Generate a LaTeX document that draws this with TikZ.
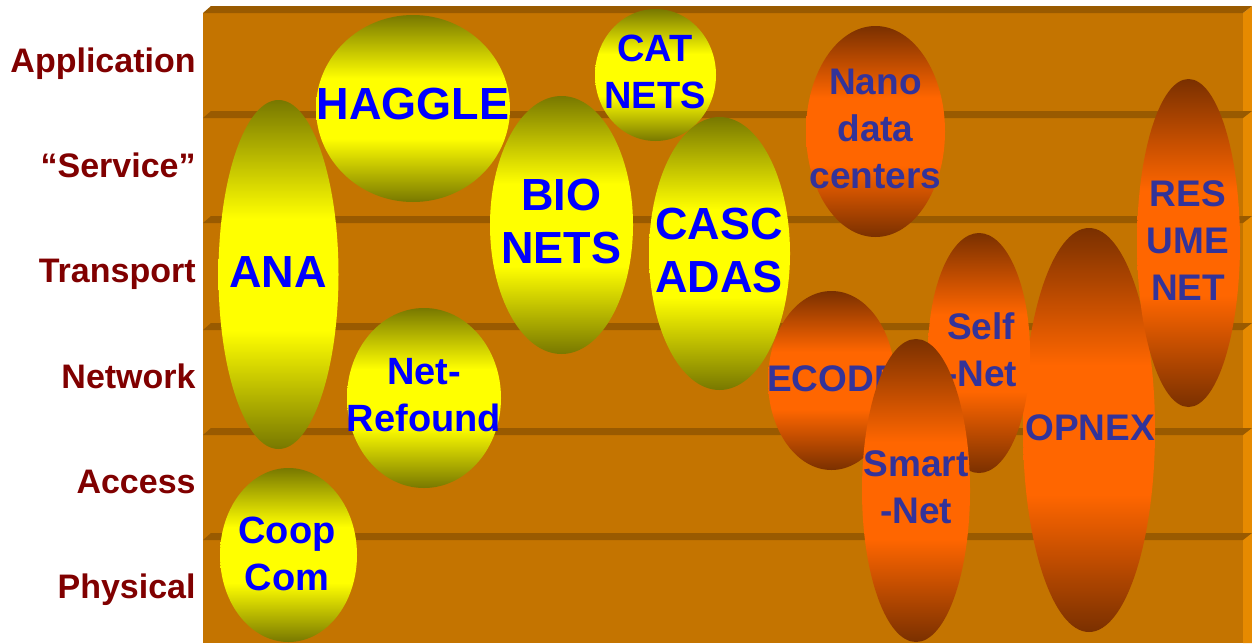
\documentclass[tikz,border=0pt]{standalone}
\usepackage{fontspec}
\setmainfont{Liberation Sans}
\usetikzlibrary{shapes.geometric}

\definecolor{slabfront}{RGB}{196,116,0}
\definecolor{slabtop}{RGB}{153,90,0}
\definecolor{slabside}{RGB}{230,138,0}
\definecolor{layerred}{RGB}{128,0,0}
\definecolor{olivedark}{RGB}{120,120,0}
\definecolor{yellowlight}{RGB}{255,255,0}
\definecolor{browndark}{RGB}{122,48,0}
\definecolor{orangelight}{RGB}{255,102,0}
\definecolor{projblue}{RGB}{0,0,255}
\definecolor{projslate}{RGB}{51,51,153}

\pgfdeclareverticalshading{yellowshade}{100bp}{color(0bp)=(olivedark); color(25bp)=(olivedark); color(42bp)=(yellowlight); color(58bp)=(yellowlight); color(75bp)=(olivedark); color(100bp)=(olivedark)}
\pgfdeclareverticalshading{orangeshade}{100bp}{color(0bp)=(browndark); color(25bp)=(browndark); color(42bp)=(orangelight); color(58bp)=(orangelight); color(75bp)=(browndark); color(100bp)=(browndark)}

\tikzset{
  layername/.style={anchor=base east, inner sep=0pt, text=layerred, font=\bfseries\fontsize{17}{20}\selectfont},
  yellowball/.style={shading=yellowshade},
  orangeball/.style={shading=orangeshade},
  bigtext/.style={inner sep=0pt, align=center, text=projblue, font=\bfseries\fontsize{22.5}{26.5}\selectfont},
  smalltext/.style={inner sep=0pt, align=center, text=projblue, font=\bfseries\fontsize{19}{23.5}\selectfont},
  orangetext/.style={inner sep=0pt, align=center, text=projslate, font=\bfseries\fontsize{18.5}{23.5}\selectfont},
}

\begin{document}
\begin{tikzpicture}[x=0.5pt,y=-0.5pt]
\useasboundingbox (0,0) rectangle (1252,643);

% 棚の前面と側面
\fill[slabfront] (203,13) rectangle (1243,643);
\fill[slabside] (1243,13)--(1252,6)--(1252,643)--(1243,643)--cycle;

% 棚の上面
\fill[slabtop] (203,13)--(211,6)--(1252,6)--(1243,13)--cycle;
\fill[slabtop] (203,118)--(211,111)--(1252,111)--(1243,118)--cycle;
\fill[slabtop] (203,223)--(211,216)--(1252,216)--(1243,223)--cycle;
\fill[slabtop] (203,330)--(211,323)--(1252,323)--(1243,330)--cycle;
\fill[slabtop] (203,435)--(211,428)--(1252,428)--(1243,435)--cycle;
\fill[slabtop] (203,540)--(211,533)--(1252,533)--(1243,540)--cycle;

% 層の名前
\node[layername] (application) at (196,72) {Application};
\node[layername] (service) at (196,177) {“Service”};
\node[layername] (transport) at (196,282) {Transport};
\node[layername] (network) at (196,388) {Network};
\node[layername] (access) at (196,493) {Access};
\node[layername] (physical) at (196,598) {Physical};

% ANA
\shade[yellowball] (278.5,274.5) ellipse [x radius=60, y radius=174.5];
\node[bigtext] (ana) at (278,272) {ANA};

% HAGGLE
\shade[yellowball] (413,108.5) ellipse [x radius=97, y radius=93.5];
\node[bigtext] (haggle) at (413,104) {HAGGLE};

% BIONETS
\shade[yellowball] (561.5,225) ellipse [x radius=71.5, y radius=129];
\node[bigtext] (bionets) at (561,221.5) {BIO\\NETS};

% CATNETS
\shade[yellowball] (655.5,75) ellipse [x radius=60.5, y radius=66];
\node[smalltext] (catnets) at (655,72) {CAT\\NETS};

% CASCADAS
\shade[yellowball] (719.5,253.5) ellipse [x radius=70.5, y radius=136.5];
\node[bigtext] (cascadas) at (719,250.5) {CASC\\ADAS};

% Net-Refound
\shade[yellowball] (424,398) ellipse [x radius=77, y radius=90];
\node[smalltext] (netrefound) at (424,395) {Net-\\Refound};

% CoopCom
\shade[yellowball] (288.5,555) ellipse [x radius=68.5, y radius=87];
\node[smalltext] (coopcom) at (287,553.5) {Coop\\Com};

% Nano data centers
\shade[orangeball] (875.5,131.5) ellipse [x radius=69.5, y radius=105.5];
\node[orangetext] (nano) at (875.5,129) {Nano\\data\\centers};

% OPNEX
\shade[orangeball] (1089,430) ellipse [x radius=66, y radius=202];
\node[orangetext] (opnex) at (1090,427.5) {OPNEX};

% RESUMENET
\shade[orangeball] (1188.5,243) ellipse [x radius=51.5, y radius=164];
\node[orangetext] (resumenet) at (1188,241) {RES\\UME\\NET};

% ECODE
\shade[orangeball] (831.5,380.5) ellipse [x radius=63.5, y radius=89.5];
\node[orangetext] (ecode) at (833,378.5) {ECODE};

% Self-Net
\shade[orangeball] (979,353) ellipse [x radius=51, y radius=120];
\node[orangetext] (selfnet) at (981,350) {Self\\-Net};

% Smart-Net
\shade[orangeball] (916,490.5) ellipse [x radius=54, y radius=151.5];
\node[orangetext] (smartnet) at (916,487.5) {Smart\\-Net};
\end{tikzpicture}
\end{document}
